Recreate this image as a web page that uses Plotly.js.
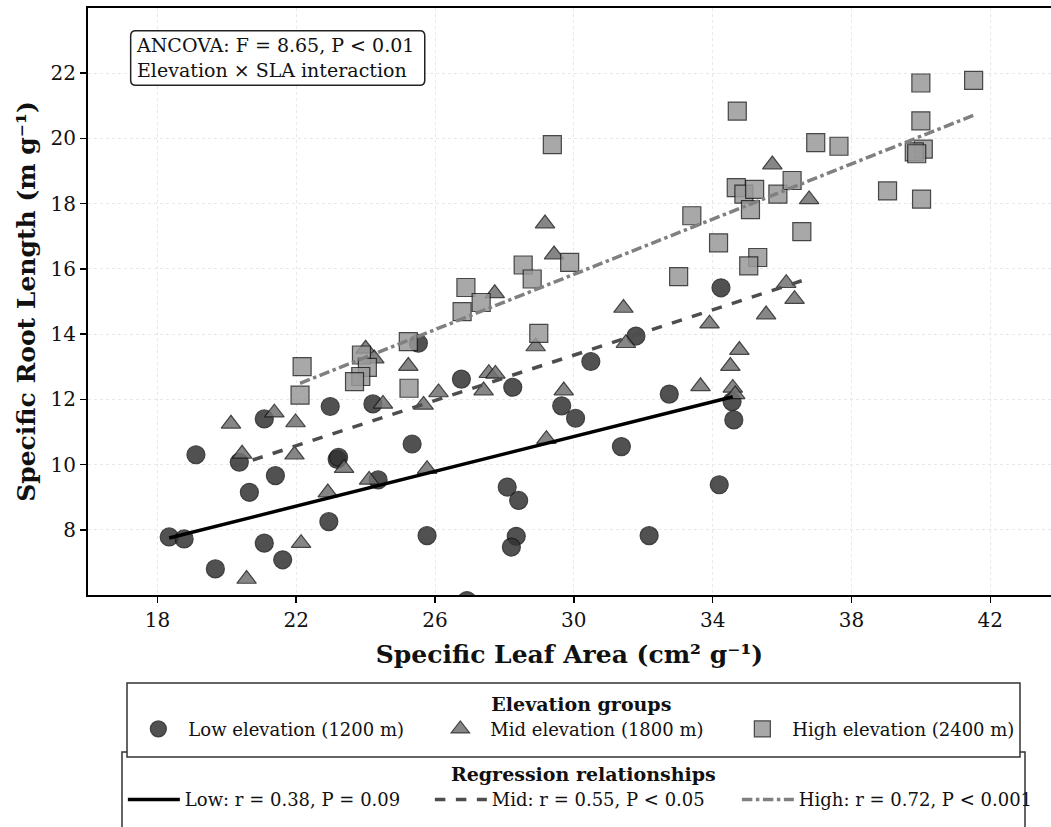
<!DOCTYPE html>
<html>
<head>
<meta charset="utf-8">
<script src="https://cdn.plot.ly/plotly-3.0.1.min.js"></script>
<style>html,body{margin:0;padding:0;background:#fff;}#chart{width:1051px;height:827px;}</style>
</head>
<body>
<div id="chart"></div>
<script>
// Low elevation (1200 m)
const lowX = [18.34,18.77,19.67,19.11,20.36,20.65,21.40,21.08,21.61,21.08,22.98,23.18,23.22,22.94,24.21,24.36,25.34,25.52,25.77,26.76,28.24,28.08,28.41,28.34,28.20,26.92,29.65,30.05,30.49,31.79,31.37,32.17,32.75,34.19,34.24,34.56,34.61];
const lowY = [7.78,7.72,6.80,10.30,10.07,9.15,9.66,7.59,7.08,11.40,11.78,10.16,10.22,8.25,11.86,9.53,10.63,13.72,7.82,12.62,12.37,9.31,8.90,7.80,7.47,5.83,11.80,11.42,13.16,13.94,10.55,7.82,12.16,9.38,15.42,11.93,11.37];
// Mid elevation (1800 m)
const midX = [20.12,20.44,21.37,21.98,21.95,22.14,20.57,22.91,23.38,24.10,24.50,25.23,24.00,24.25,25.67,26.10,27.40,27.55,27.74,25.77,28.90,29.71,29.21,29.17,29.43,27.72,31.43,31.50,33.65,33.91,35.72,36.78,36.12,36.36,35.54,34.77,34.51,34.58,34.65];
const midY = [11.25,10.33,11.59,11.29,10.30,7.59,6.49,9.14,9.89,9.53,11.86,13.02,13.55,13.25,11.83,12.21,12.27,12.80,12.78,9.86,13.62,12.27,10.78,17.39,16.44,15.25,14.80,13.72,12.40,14.32,19.20,18.13,15.56,15.07,14.60,13.51,13.02,12.35,12.15];
// High elevation (2400 m)
const highX = [22.17,22.11,23.88,24.05,23.86,23.68,25.23,25.25,26.78,26.89,27.33,28.54,28.80,29.88,29.38,28.99,33.02,33.40,34.17,34.71,34.68,34.90,35.21,35.09,35.88,36.29,36.97,37.64,35.30,35.04,36.57,39.04,40.02,40.00,41.52,40.00,40.07,39.81,39.88];
const highY = [13.00,12.13,13.36,12.98,12.70,12.54,13.77,12.34,14.69,15.43,14.97,16.12,15.69,16.20,19.81,14.02,15.76,17.63,16.80,20.84,18.49,18.29,18.44,17.82,18.29,18.71,19.87,19.76,16.35,16.09,17.14,18.39,18.14,21.70,21.78,20.54,19.67,19.59,19.53];
// Regression line endpoints
const lowFitX = [18.34, 34.58];
const lowFitY = [7.75, 12.08];
const midFitX = [20.17, 36.78];
const midFitY = [9.94, 15.71];
const highFitX = [22.11, 41.52];
const highFitY = [12.49, 20.71];
// Labels
const groupNames = ['Low elevation (1200 m)', 'Mid elevation (1800 m)', 'High elevation (2400 m)'];
const fitNames = ['Low: r = 0.38, P = 0.09', 'Mid: r = 0.55, P < 0.05', 'High: r = 0.72, P < 0.001'];
const xTicks = [18, 22, 26, 30, 34, 38, 42];
const yTicks = [8, 10, 12, 14, 16, 18, 20, 22];

const serif = 'DejaVu Serif, serif';
const edge = {color: 'rgba(20,20,20,0.9)', width: 1.2};

const traces = [
  {x: lowX, y: lowY, type: 'scatter', mode: 'markers', name: groupNames[0], legend: 'legend',
   marker: {symbol: 'circle', size: 18, color: '#333333', opacity: 0.85, line: edge}},
  {x: midX, y: midY, type: 'scatter', mode: 'markers', name: groupNames[1], legend: 'legend',
   marker: {symbol: 'triangle-up', size: 17, color: '#727272', opacity: 0.85, line: edge}},
  {x: highX, y: highY, type: 'scatter', mode: 'markers', name: groupNames[2], legend: 'legend',
   marker: {symbol: 'square', size: 18, color: '#999999', opacity: 0.85, line: edge}},
  {x: lowFitX, y: lowFitY, type: 'scatter', mode: 'lines', name: fitNames[0], legend: 'legend2',
   line: {color: '#000000', width: 3.5, dash: 'solid'}},
  {x: midFitX, y: midFitY, type: 'scatter', mode: 'lines', name: fitNames[1], legend: 'legend2',
   line: {color: '#4d4d4d', width: 3.5, dash: 'dash'}},
  {x: highFitX, y: highFitY, type: 'scatter', mode: 'lines', name: fitNames[2], legend: 'legend2',
   line: {color: '#808080', width: 3.5, dash: 'dashdot'}}
];

// rounded box for the ANCOVA note (paper coordinates)
const bx0 = 0.0443, bx1 = 0.3497, by0 = 0.8683, by1 = 0.9613, rx = 5/963, ry = 5/587;
const boxPath = `M ${bx0+rx},${by0} L ${bx1-rx},${by0} Q ${bx1},${by0} ${bx1},${by0+ry} L ${bx1},${by1-ry} Q ${bx1},${by1} ${bx1-rx},${by1} L ${bx0+rx},${by1} Q ${bx0},${by1} ${bx0},${by1-ry} L ${bx0},${by0+ry} Q ${bx0},${by0} ${bx0+rx},${by0} Z`;

const layout = {
  width: 1051, height: 827,
  margin: {l: 88, r: 0, t: 8, b: 232},
  paper_bgcolor: '#ffffff', plot_bgcolor: '#ffffff',
  font: {family: serif, color: '#000', size: 16},
  showlegend: true,
  xaxis: {
    range: [16.0, 43.75], tickvals: xTicks, ticktext: xTicks.map(String),
    showline: true, linecolor: '#000', linewidth: 2, mirror: true,
    ticks: 'outside', ticklen: 6, tickwidth: 1.5, tickcolor: '#000',
    showgrid: true, gridcolor: '#e8e8e8', griddash: 'dot', gridwidth: 1,
    zeroline: false, tickfont: {family: serif, size: 20, color: '#111'},
    title: {text: '<b>Specific Leaf Area (cm² g⁻¹)</b>', font: {family: serif, size: 25, color: '#111'}, standoff: 14}
  },
  yaxis: {
    range: [6.0, 24.0], tickvals: yTicks, ticktext: yTicks.map(String),
    showline: true, linecolor: '#000', linewidth: 2, mirror: false,
    ticks: 'outside', ticklen: 6, tickwidth: 1.5, tickcolor: '#000',
    showgrid: true, gridcolor: '#e8e8e8', griddash: 'dot', gridwidth: 1,
    zeroline: false, tickfont: {family: serif, size: 20, color: '#111'},
    title: {text: '<b>Specific Root Length (m g⁻¹)</b>', font: {family: serif, size: 25, color: '#111'}, standoff: 8}
  },
  legend: {
    orientation: 'h', x: 0.5123, xanchor: 'center', y: -0.155, yanchor: 'top',
    borderwidth: 0, bgcolor: 'rgba(0,0,0,0)',
    title: {text: '<b>Elevation groups</b>', side: 'top center', font: {family: serif, size: 19}},
    font: {family: serif, size: 18, color: '#111'},
    entrywidth: 237, itemwidth: 50, tracegroupgap: 0
  },
  legend2: {
    orientation: 'h', x: 0.5144, xanchor: 'center', y: -0.2751, yanchor: 'top',
    borderwidth: 0, bgcolor: 'rgba(0,0,0,0)',
    title: {text: '<b>Regression relationships</b>', side: 'top center', font: {family: serif, size: 19}},
    font: {family: serif, size: 18, color: '#111'},
    entrywidth: 240, itemwidth: 52
  },
  shapes: [
    {type: 'rect', xref: 'paper', yref: 'paper', x0: 0.0353, x1: 0.9730, y0: -0.4089, y1: -0.2675,
     line: {color: '#333', width: 1.5}, fillcolor: '#ffffff', layer: 'above'},
    {type: 'rect', xref: 'paper', yref: 'paper', x0: 0.0405, x1: 0.9678, y0: -0.2760, y1: -0.1499,
     line: {color: '#333', width: 1.5}, fillcolor: '#ffffff', layer: 'above'},
    {type: 'path', xref: 'paper', yref: 'paper', path: boxPath,
     line: {color: '#222', width: 1.5}, fillcolor: '#ffffff', layer: 'above'}
  ],
  annotations: [{
    xref: 'paper', yref: 'paper', x: 0.0443, y: 0.9613, xanchor: 'left', yanchor: 'top',
    text: 'ANCOVA: F = 8.65, P < 0.01<br>Elevation × SLA interaction', align: 'left',
    showarrow: false, font: {family: serif, size: 19, color: '#111'},
    borderpad: 3, borderwidth: 0, xshift: 2
  }]
};

Plotly.newPlot('chart', traces, layout, {displayModeBar: false, staticPlot: true});
</script>
</body>
</html>
